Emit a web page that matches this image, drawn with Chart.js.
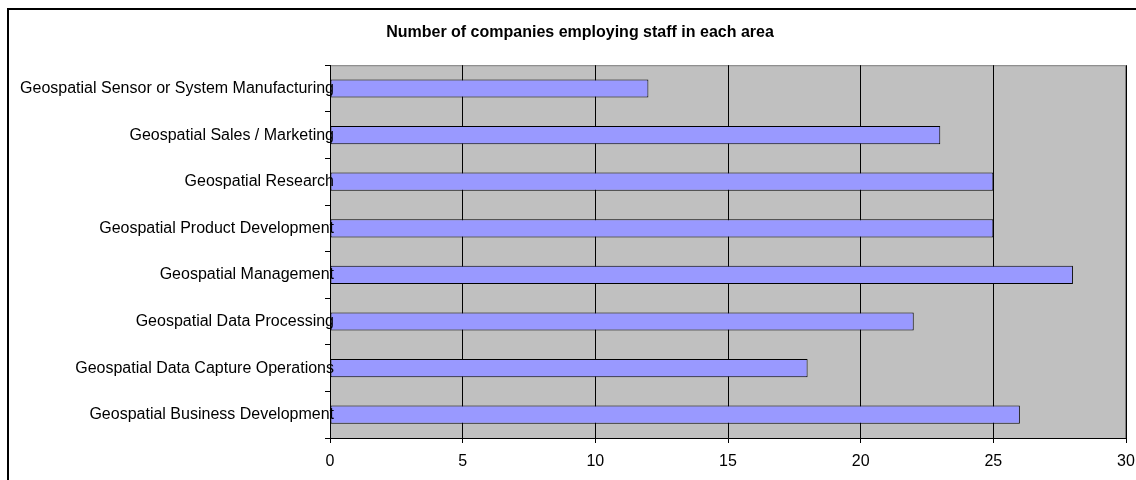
<!DOCTYPE html>
<html>
<head>
<meta charset="utf-8">
<script src="https://cdn.jsdelivr.net/npm/chart.js@4/dist/chart.umd.min.js"></script>
<style>
  html, body { margin: 0; padding: 0; background: #ffffff; }
  #wrap { width: 1136px; height: 480px; }
</style>
</head>
<body>
<div id="wrap"><canvas id="chart" width="1136" height="480"></canvas></div>
<script>
// Areas of work, listed top to bottom
const areas = [
  'Geospatial Sensor or System Manufacturing',
  'Geospatial Sales / Marketing',
  'Geospatial Research',
  'Geospatial Product Development',
  'Geospatial Management',
  'Geospatial Data Processing',
  'Geospatial Data Capture Operations',
  'Geospatial Business Development'
];
// Number of companies employing staff in each area
const companies = [12, 23, 25, 25, 28, 22, 18, 26];
// Value axis ticks
const axisMin = 0;
const axisMax = 30;
const axisStep = 5;

const FONT = 'Arial, "Liberation Sans", sans-serif';

// Gray plot background, thin gray frame, and the outer chart border
const framePlugin = {
  id: 'frame',
  beforeDraw(chart) {
    const { ctx, chartArea: a } = chart;
    ctx.save();
    ctx.strokeStyle = '#000000';
    ctx.lineWidth = 2;
    ctx.strokeRect(8, 9, 3000, 3000);
    ctx.fillStyle = '#c0c0c0';
    ctx.fillRect(a.left, a.top, a.right - a.left, a.bottom - a.top);
    ctx.strokeStyle = '#808080';
    ctx.lineWidth = 1;
    ctx.strokeRect(a.left + 0.5, a.top + 0.5, a.right - a.left - 1, a.bottom - a.top);
    ctx.restore();
  }
};

// Category labels, right-aligned against the axis and allowed to run
// slightly over the bars (drawn after the datasets so they sit on top)
const categoryLabelPlugin = {
  id: 'categoryLabels',
  afterDatasetsDraw(chart) {
    const { ctx } = chart;
    const yScale = chart.scales.y;
    ctx.save();
    ctx.font = '16px ' + FONT;
    ctx.fillStyle = '#000000';
    ctx.textAlign = 'right';
    ctx.textBaseline = 'middle';
    areas.forEach((name, i) => {
      ctx.fillText(name, yScale.right + 4, yScale.getPixelForValue(i));
    });
    ctx.restore();
  }
};

new Chart(document.getElementById('chart'), {
  type: 'bar',
  data: {
    labels: areas,
    datasets: [{
      data: companies,
      backgroundColor: '#9999ff',
      borderColor: '#000000',
      borderWidth: 1,
      borderSkipped: false,
      barPercentage: 0.39,
      categoryPercentage: 1.0
    }]
  },
  options: {
    indexAxis: 'y',
    responsive: false,
    animation: false,
    devicePixelRatio: 1,
    layout: { padding: { left: 34, right: 10, top: 0, bottom: 0 } },
    plugins: {
      legend: { display: false },
      tooltip: { enabled: false },
      title: {
        display: true,
        text: 'Number of companies employing staff in each area',
        color: '#000000',
        font: { family: FONT, size: 16, weight: 'bold' },
        padding: { top: 23, bottom: 23 }
      }
    },
    scales: {
      x: {
        type: 'linear',
        min: axisMin,
        max: axisMax,
        position: 'bottom',
        afterFit(scale) {
          scale.height = 42;
          scale.paddingLeft = 0;
          scale.paddingRight = 0;
        },
        ticks: {
          stepSize: axisStep,
          color: '#000000',
          padding: 9,
          font: { family: FONT, size: 16 }
        },
        grid: {
          color: '#000000',
          lineWidth: 1,
          tickLength: 5,
          tickColor: '#000000',
          drawTicks: true
        },
        border: { display: true, color: '#000000', width: 1 }
      },
      y: {
        type: 'category',
        offset: true,
        afterFit(scale) {
          scale.width = 296;
          scale.paddingTop = 0;
          scale.paddingBottom = 0;
        },
        ticks: {
          display: false
        },
        grid: {
          offset: true,
          drawOnChartArea: false,
          drawTicks: true,
          tickLength: 5,
          tickColor: '#000000'
        },
        border: { display: true, color: '#000000', width: 1 }
      }
    }
  },
  plugins: [framePlugin, categoryLabelPlugin]
});
</script>
</body>
</html>
